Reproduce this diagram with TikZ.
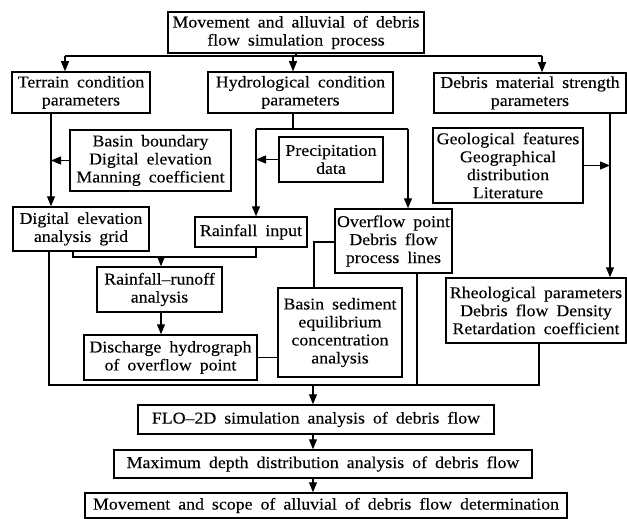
\documentclass[tikz,border=0pt]{standalone}
\usepackage{fontspec}
\setmainfont{Liberation Serif}[FakeStretch=1.08,WordSpace=1.8,FakeBold=0.15]
\usetikzlibrary{arrows.meta}
\begin{document}
\begin{tikzpicture}[x=1pt,y=-1pt,
  box/.style={draw,line width=1.5pt,align=center,inner sep=0pt,font=\fontsize{16.5}{18}\selectfont},
  ln/.style={line width=1.1pt},
  arr/.style={ln,-{Triangle[length=10pt,width=8pt]}}]
\useasboundingbox[fill=white] (0,0) rectangle (627,519);
% boxes
\node[box,minimum width=256pt,minimum height=41pt] (top) at (296,32.5) {Movement and alluvial of debris\\flow simulation process};
\node[box,minimum width=138pt,minimum height=41pt] (terrain) at (81,92.5) {Terrain condition\\parameters};
\node[box,minimum width=185pt,minimum height=41pt] (hydro) at (300.5,92.5) {Hydrological condition\\parameters};
\node[box,minimum width=192pt,minimum height=40pt] (debris) at (530,93) {Debris material strength\\parameters};
\node[box,minimum width=161pt,minimum height=61pt] (basinb) at (150.5,160.5) {Basin boundary\\Digital elevation\\Manning coefficient};
\node[box,minimum width=104pt,minimum height=45pt] (precip) at (331,159.5) {Precipitation\\data};
\node[box,minimum width=150pt,minimum height=75pt] (geo) at (508,165.5) {Geological features\\Geographical\\distribution\\Literature};
\node[box,minimum width=136pt,minimum height=44pt] (degrid) at (81,229) {Digital elevation\\analysis grid};
\node[box,minimum width=112pt,minimum height=30pt] (rainin) at (251,232) {Rainfall input};
\node[box,minimum width=117pt,minimum height=64pt] (overflow) at (393.5,241) {Overflow point\\Debris flow\\process lines};
\node[box,minimum width=125pt,minimum height=45pt] (runoff) at (159.5,289.5) {Rainfall--runoff\\analysis};
\node[box,minimum width=173pt,minimum height=45pt] (discharge) at (170.5,357.5) {Discharge hydrograph\\of overflow point};
\node[box,minimum width=124pt,minimum height=89pt] (sediment) at (340,332.5) {Basin sediment\\equilibrium\\concentration\\analysis};
\node[box,minimum width=180pt,minimum height=65pt] (rheo) at (536,310.5) {Rheological parameters\\Debris flow Density\\Retardation coefficient};
\node[box,minimum width=356pt,minimum height=29pt] (flo) at (316,419.5) {FLO--2D simulation analysis of debris flow};
\node[box,minimum width=418pt,minimum height=28pt] (maxd) at (323,464) {Maximum depth distribution analysis of debris flow};
\node[box,minimum width=482pt,minimum height=25pt] (scope) at (326,505.5) {Movement and scope of alluvial of debris flow determination};
% coordinates
\coordinate (busL) at (65,56);
\coordinate (busH) at (293,56);
\coordinate (busR) at (542,56);
\coordinate (t1) at (51,0);
\coordinate (h1) at (293,129);
\coordinate (hL) at (256,129);
\coordinate (hR) at (408,129);
\coordinate (d1) at (610,0);
\coordinate (j1) at (73,257);
\coordinate (j2) at (256,257);
\coordinate (j3) at (161,257);
\coordinate (o1) at (314,242);
\coordinate (cL) at (49,385);
\coordinate (cR) at (539,385);
\coordinate (cO) at (417,385);
\coordinate (cM) at (313,385);
% connectors
\draw[ln] (top.south) -- (top.south |- busL);
\draw[ln] (busL) -- (busR);
\draw[arr] (busL) -- (busL |- terrain.north);
\draw[arr] (busH) -- (busH |- hydro.north);
\draw[arr] (busR) -- (busR |- debris.north);
\draw[arr] (terrain.south -| t1) -- (t1 |- degrid.north);
\draw[arr] (basinb.west) -- (basinb.west -| t1);
\draw[ln] (hydro.south -| h1) -- (h1);
\draw[ln] (hL) -- (hR);
\draw[arr] (hL) -- (hL |- rainin.north);
\draw[arr] (hR) -- (hR |- overflow.north);
\draw[arr] (precip.west) -- (precip.west -| hL);
\draw[arr] (debris.south -| d1) -- (d1 |- rheo.north);
\draw[arr] (geo.east) -- (geo.east -| d1);
\draw[ln] (degrid.south -| j1) -- (j1) -- (j2) -- (rainin.south -| j2);
\draw[arr] (j3) -- (j3 |- runoff.north);
\draw[arr] (runoff.south -| j3) -- (j3 |- discharge.north);
\draw[ln] (discharge.east) -- (discharge.east -| sediment.west);
\draw[ln] (overflow.west |- o1) -- (o1) -- (o1 |- sediment.north);
\draw[ln] (degrid.south -| cL) -- (cL) -- (cR) -- (rheo.south -| cR);
\draw[ln] (overflow.south -| cO) -- (cO);
\draw[arr] (cM) -- (cM |- flo.north);
\draw[arr] (flo.south -| cM) -- (cM |- maxd.north);
\draw[arr] (maxd.south -| cM) -- (cM |- scope.north);
\end{tikzpicture}
\end{document}
